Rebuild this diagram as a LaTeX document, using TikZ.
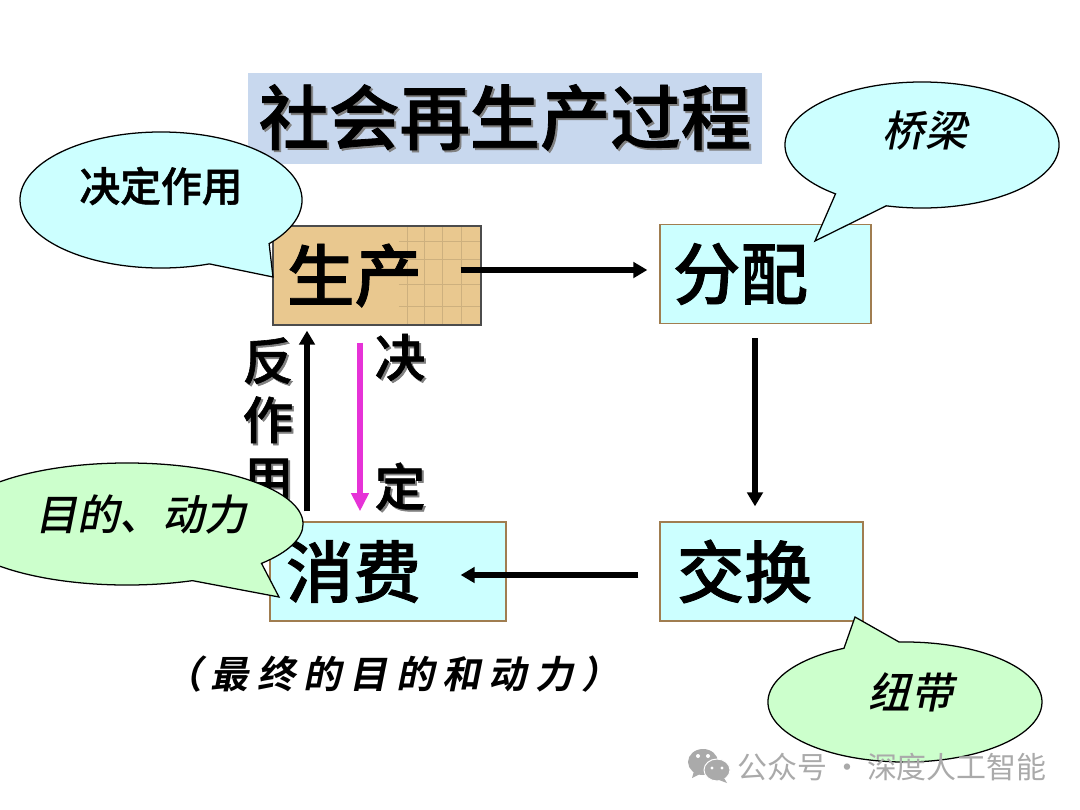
\documentclass[tikz,border=0pt]{standalone}
\usepackage{fontspec}
\usepackage{xcolor}
\usetikzlibrary{arrows.meta,shapes.callouts}
\setmainfont{Noto Sans CJK SC}
\newfontfamily\cjkheavy[FakeBold=1.2]{Noto Sans CJK SC Medium}
\newfontfamily\cjkslant[FakeSlant=0.2]{Noto Sans CJK SC Medium}
\newfontfamily\cjkspaced[FakeSlant=0.2,LetterSpace=22]{Noto Sans CJK SC Bold}
\definecolor{titleblue}{RGB}{200,216,238}
\definecolor{boxtan}{RGB}{233,200,143}
\definecolor{boxcyan}{RGB}{204,255,255}
\definecolor{bubblegreen}{RGB}{204,255,204}
\definecolor{boxedge}{RGB}{160,125,80}
\definecolor{accentmagenta}{RGB}{230,50,215}
\definecolor{markgray}{RGB}{170,170,170}
\newcommand{\bevel}[1]{\rlap{\kern1.4pt\raisebox{-1.4pt}{\textcolor{gray}{#1}}}#1}

\begin{document}
\begin{tikzpicture}[
    x=0.025cm, y=-0.025cm,
    stagebox/.style={draw=boxedge, line width=0.9pt, fill=boxcyan, align=left, inner ysep=0pt,
                     minimum height=2.475cm, font=\cjkheavy\fontsize{48}{50}\selectfont},
    link/.style={-{Triangle[length=10pt,width=11pt]}, line width=4pt, color=black},
    bubble/.style={ellipse callout, draw=black, line width=0.9pt, inner sep=0pt},
    bubbletext/.style={font=\cjkslant\fontsize{30}{32}\selectfont, inner sep=0pt}
]
\useasboundingbox (0,0) rectangle (1080,810);
\clip (0,0) rectangle (1080,810);
\fill[white] (0,0) rectangle (1080,810);

% title
\node[fill=titleblue, minimum width=12.85cm, minimum height=2.275cm, inner sep=0pt,
      font=\cjkheavy\fontsize{50}{52}\selectfont] (title) at (505,118.5) {\bevel{社会再生产过程}};

% stages
\node[stagebox, fill=boxtan, draw=black!70, text width=4.5cm, inner xsep=0.35cm,
      path picture={
        \foreach \gridx in {120,137,155,174} \draw[boxtan!88!black, line width=0.3pt] (\gridx,-75) -- (\gridx,30);
        \foreach \gridy in {-60,-42,-17,5} \draw[boxtan!88!black, line width=0.3pt] (112,\gridy) -- (195,\gridy);
      }] (production) at (377,275.5) {生产};
\node[stagebox, text width=4.625cm, inner xsep=0.325cm] (distribution) at (765.5,274) {分配};
\node[stagebox, text width=4.225cm, inner xsep=0.425cm] (exchange) at (761.5,571.5) {交换};
\node[stagebox, text width=5.1cm, inner xsep=0.4cm] (consumption) at (388,571.5) {消费};

\draw[link] ([shift={(-21,-5.5)}]production.east) -- ([shift={(-12,-4)}]distribution.west);
\draw[link] ([shift={(-10.5,14)}]distribution.south) -- ([shift={(-6.5,-15)}]exchange.north);
\draw[link] ([shift={(-21,3.5)}]exchange.west) -- ([shift={(-46,3.5)}]consumption.east);
\draw[link] ([shift={(-81,-10)}]consumption.north) -- ([shift={(-70,5)}]production.south);
\draw[link, color=accentmagenta, line width=4.4pt, -{Triangle[length=13pt,width=12pt]}]
    ([shift={(-17,17)}]production.south) -- ([shift={(-28,-10)}]consumption.north);

% side labels
\node[align=center, inner sep=0pt, font=\cjkheavy\fontsize{36}{42}\selectfont] (feedback) at (268,421) {\bevel{反}\\\bevel{作}\\\bevel{用}};
\node[align=center, inner sep=0pt, font=\cjkheavy\fontsize{36}{92}\selectfont] (decide) at (400,423) {\bevel{决}\\\bevel{定}};

% bubbles
\node[bubble, fill=boxcyan, minimum width=7.05cm, minimum height=3.4cm,
      callout absolute pointer={(273,277)}, callout pointer arc=30] (rolebubble) at (161,200) {};
\node[font=\cjkheavy\fontsize{29}{31}\selectfont, inner sep=0pt] (roletext) at (161,186) {决定作用};
\node[bubble, fill=boxcyan, minimum width=6.85cm, minimum height=3.15cm,
      callout absolute pointer={(815,241)}, callout pointer arc=24] (bridgebubble) at (922,145) {};
\node[bubbletext] (bridgetext) at (925,131) {桥梁};
\node[bubble, fill=bubblegreen, minimum width=8.8cm, minimum height=3.05cm,
      callout absolute pointer={(279,597)}, callout pointer arc=28] (aimbubble) at (127,524) {};
\node[bubbletext] (aimtext) at (141,515) {目的、动力};
\node[bubble, fill=bubblegreen, minimum width=6.85cm, minimum height=3cm,
      callout absolute pointer={(855,617)}, callout pointer arc=24] (linkbubble) at (905,702) {};
\node[bubbletext] (linktext) at (911,692) {纽带};

% caption
\node[font=\cjkspaced\fontsize{27}{29}\selectfont, inner sep=0pt] (caption) at (392,674) {（最终的目的和动力）};

% watermark
\fill[markgray] (703,762) ellipse (15 and 13);
\fill[markgray] (694,771) -- (692,778) -- (700,774) -- cycle;
\fill[markgray, draw=white, line width=0.7pt] (717,770) ellipse (13 and 11);
\fill[markgray] (724,778) -- (727,783) -- (719,780) -- cycle;
\foreach \dotx/\doty in {698/756, 708/756} \fill[white] (\dotx,\doty) circle (2);
\foreach \dotx/\doty in {712/768, 722/768} \fill[white] (\dotx,\doty) circle (1.7);
\node[font=\fontsize{21.3}{23}\selectfont, color=markgray, inner sep=0pt] (mark) at (892,767) {公众号\,·\,深度人工智能};
\end{tikzpicture}
\end{document}
